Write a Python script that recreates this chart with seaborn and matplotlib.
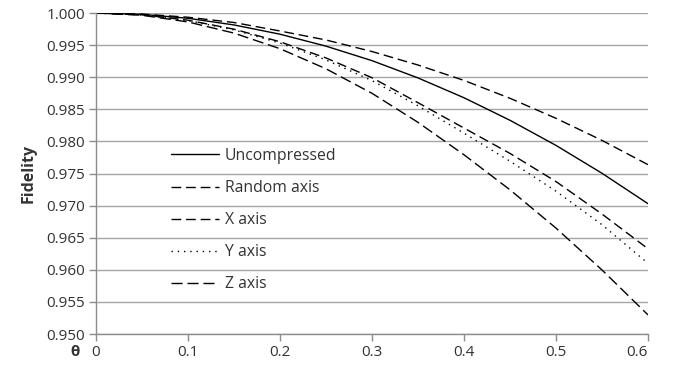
import pandas as pd
import matplotlib
matplotlib.use("Agg")
import matplotlib.pyplot as plt
import seaborn as sns

# Values
theta = [0.0, 0.05, 0.10, 0.15, 0.20, 0.25, 0.30, 0.35, 0.40, 0.45, 0.50, 0.55, 0.60]
uncompressed = [1.0, 0.99979, 0.99918, 0.99814, 0.99670, 0.99484, 0.99258,
                0.98989, 0.98680, 0.98329, 0.97938, 0.97504, 0.97030]
random_axis = [1.0, 0.99984, 0.99934, 0.99852, 0.99720, 0.99580, 0.99400,
               0.99190, 0.98950, 0.98672, 0.98360, 0.98016, 0.97638]
x_axis = [1.0, 0.99972, 0.99888, 0.99748, 0.99552, 0.99300, 0.98992,
          0.98603, 0.98208, 0.97813, 0.97375, 0.96869, 0.96328]
y_axis = [1.0, 0.99971, 0.99883, 0.99737, 0.99532, 0.99269, 0.98947,
          0.98555, 0.98128, 0.97692, 0.97225, 0.96703, 0.96101]
z_axis = [1.0, 0.99965, 0.99861, 0.99687, 0.99444, 0.99131, 0.98749,
          0.98297, 0.97792, 0.97246, 0.96650, 0.95998, 0.95298]

series = ["Uncompressed", "Random axis", "X axis", "Y axis", "Z axis"]
values = [uncompressed, random_axis, x_axis, y_axis, z_axis]
dashes = {
    "Uncompressed": "",
    "Random axis": (7, 3.5),
    "X axis": (7, 3.5),
    "Y axis": (1, 3.5),
    "Z axis": (8, 3.5),
}

sns.set_theme(style="white")
plt.rcParams["font.family"] = ["Open Sans", "DejaVu Sans"]

fig = plt.figure(figsize=(6.81, 3.75), dpi=100)
ax = fig.add_axes([0.141, 0.1093, 0.8105, 0.856])

df = pd.DataFrame({"theta": theta * len(series),
                   "fidelity": sum(values, []),
                   "series": [s for s in series for _ in theta]})
sns.lineplot(data=df, x="theta", y="fidelity", hue="series", style="series",
             hue_order=series, style_order=series,
             palette=["black"] * len(series), dashes=dashes,
             linewidth=1.0, ax=ax)

# Axes styling
ax.set_xlim(0, 0.6)
ax.set_ylim(0.95, 1.0)
ax.set_yticks([0.95 + 0.005 * i for i in range(11)])
ax.set_yticklabels([f"{0.95 + 0.005 * i:.3f}" for i in range(11)])
ax.set_xticks([0.1 * i for i in range(7)])
ax.set_xticklabels(["0", "0.1", "0.2", "0.3", "0.4", "0.5", "0.6"])
ax.yaxis.grid(True, color="#a6a6a6", linewidth=1.0)
ax.xaxis.grid(False)
for side in ["top", "right"]:
    ax.spines[side].set_visible(False)
for side in ["left", "bottom"]:
    ax.spines[side].set_color("#8c8c8c")
    ax.spines[side].set_linewidth(1.0)
ax.tick_params(axis="both", direction="out", length=5, width=1.0,
               color="#8c8c8c", labelsize=11, labelcolor="#333333", pad=3,
               left=True, bottom=True)
ax.get_xticklabels()[-1].set_horizontalalignment("right")

ax.set_xlabel("")
ax.set_ylabel("Fidelity", fontsize=11.5, fontweight="bold", color="#333333", labelpad=7)
ax.text(-0.038, -0.056, "θ", transform=ax.transAxes, ha="center", va="center",
        fontsize=11, fontweight="bold", color="#333333")

leg = ax.legend(loc="upper left", bbox_to_anchor=(0.135, 0.58), frameon=False,
                borderaxespad=0, borderpad=0, handlelength=3.1, handletextpad=0.35,
                labelspacing=1.03, fontsize=11.3)
for t in leg.get_texts():
    t.set_color("#333333")

fig.savefig("out.png", dpi=100)
